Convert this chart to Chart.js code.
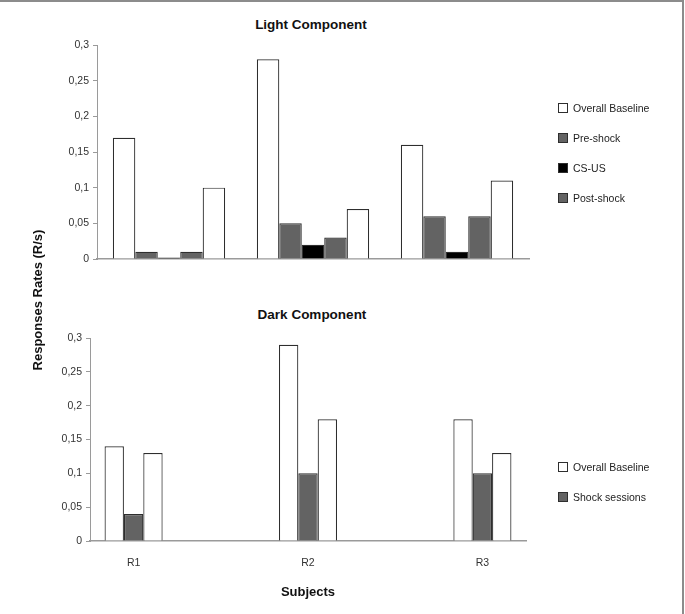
<!DOCTYPE html>
<html>
<head>
<meta charset="utf-8">
<title>Response rates — light / dark component</title>
<script src="https://cdn.jsdelivr.net/npm/chart.js@4/dist/chart.umd.min.js"></script>
<style>
  html, body { margin: 0; padding: 0; background: #fff; }
  #page {
    position: relative; width: 685px; height: 614px; overflow: hidden;
    font-family: 'Liberation Sans', Arial, sans-serif; color: #111;
  }
  /* scanned figure frame: only top and right edges show */
  #page::before {
    content: ''; position: absolute; left: 0; top: 0; width: 684px; height: 614px;
    border-top: 2px solid #8c8c8c; border-right: 2px solid #8c8c8c; box-sizing: border-box;
  }
  .panel { position: absolute; left: 0; }
  .title {
    position: absolute; width: 300px; text-align: center;
    font-weight: bold; font-size: 13.5px; line-height: 16px;
  }
  .ytitle {
    position: absolute; width: 220px; height: 16px; line-height: 16px; text-align: center;
    font-weight: bold; font-size: 13px; transform: rotate(-90deg);
  }
  .legend { position: absolute; left: 558px; font-size: 10.5px; color: #222; }
  .lg-row { height: 30px; line-height: 30px; white-space: nowrap; }
  .lg-box {
    display: inline-block; width: 8px; height: 8px; border: 1px solid #333;
    vertical-align: middle; margin: -2px 5px 0 0;
  }
</style>
</head>
<body>
<div id="page">
  <div class="title" style="left:161px; top:17px;">Light Component</div>
  <div class="panel" style="top:0;"><canvas id="lightChart" width="685" height="270"></canvas></div>
  <div class="legend" id="lightLegend" style="top:93px;"></div>

  <div class="title" style="left:162px; top:307px;">Dark Component</div>
  <div class="panel" style="top:285px;"><canvas id="darkChart" width="685" height="329"></canvas></div>
  <div class="legend" id="darkLegend" style="top:452px;"></div>

  <div class="ytitle" style="left:-72px; top:292px;">Responses Rates (R/s)</div>
</div>

<script>
// ── Data ──────────────────────────────────────
const subjects = ['R1', 'R2', 'R3'];

// Light component (R/s)
const lightBaseline   = [0.17, 0.28, 0.16];
const lightPreShock   = [0.01, 0.05, 0.06];
const lightCsUs       = [0.002, 0.02, 0.01];
const lightPostShock  = [0.01, 0.03, 0.06];
const lightBaseline2  = [0.10, 0.07, 0.11];

// Dark component (R/s)
const darkBaseline    = [0.14, 0.29, 0.18];
const darkShock       = [0.04, 0.10, 0.10];
const darkBaseline2   = [0.13, 0.18, 0.13];

const yTicks = [0, 0.05, 0.1, 0.15, 0.2, 0.25, 0.3];

// ── Styles ────────────────────────────────────
const WHITE = '#ffffff';
const GREY  = '#636363';
const BLACK = '#000000';
const EDGE  = '#2e2e2e';
const AXIS  = '#9a9a9a';
const FONT  = "'Liberation Sans', Arial, sans-serif";

function barSet(label, data, fill, inLegend = true) {
  return {
    label,
    data,
    backgroundColor: fill,
    borderColor: EDGE,
    borderWidth: 1.2,
    showInLegend: inLegend,
  };
}

function commaTick(v) {
  return String(+Number(v).toFixed(2)).replace('.', ',');
}

function yScale() {
  return {
    min: 0,
    max: 0.3,
    afterBuildTicks: s => { s.ticks = yTicks.map(value => ({ value })); },
    afterFit: s => { s.width = 40; },
    border: { color: AXIS, width: 1 },
    grid: { drawOnChartArea: false, drawTicks: true, tickLength: 4, color: AXIS },
    ticks: {
      padding: 4,
      color: '#333',
      font: { family: FONT, size: 10.5 },
      callback: commaTick,
    },
  };
}

function buildLegend(chart, el) {
  const items = (chart.legend && chart.legend.legendItems) ||
    Chart.defaults.plugins.legend.labels.generateLabels(chart);
  el.innerHTML = '';
  items
    .filter(it => chart.data.datasets[it.datasetIndex].showInLegend !== false)
    .forEach(it => {
      const row = document.createElement('div');
      row.className = 'lg-row';
      const box = document.createElement('span');
      box.className = 'lg-box';
      box.style.background = it.fillStyle;
      box.style.borderColor = it.strokeStyle;
      row.appendChild(box);
      row.appendChild(document.createTextNode(it.text));
      el.appendChild(row);
    });
}

// ── Light component ───────────────────────────
const lightChart = new Chart(document.getElementById('lightChart'), {
  type: 'bar',
  data: {
    labels: subjects,
    datasets: [
      barSet('Overall Baseline', lightBaseline, WHITE),
      barSet('Pre-shock', lightPreShock, GREY),
      barSet('CS-US', lightCsUs, BLACK),
      barSet('Post-shock', lightPostShock, GREY),
      barSet('Overall Baseline (after)', lightBaseline2, WHITE, false),
    ],
  },
  options: {
    responsive: false,
    animation: false,
    categoryPercentage: 0.78,
    barPercentage: 1,
    layout: { padding: { top: 45, left: 57, right: 156, bottom: 11 } },
    plugins: { legend: { display: false }, title: { display: false }, tooltip: { enabled: false } },
    scales: {
      x: {
        afterFit: s => { s.height = 0; },
        border: { color: AXIS, width: 1.5 },
        grid: { display: false },
        ticks: { display: false },
      },
      y: yScale(),
    },
  },
});

// ── Dark component ────────────────────────────
// linear x so the three groups sit at the same spacing as the original figure
const xMin = 0.75;
const xMax = subjects.length + 0.25;
const toPoints = vals => vals.map((y, i) => ({ x: i + 1, y }));

const darkChart = new Chart(document.getElementById('darkChart'), {
  type: 'bar',
  data: {
    datasets: [
      barSet('Overall Baseline', toPoints(darkBaseline), WHITE),
      barSet('Shock sessions', toPoints(darkShock), GREY),
      barSet('Overall Baseline (after)', toPoints(darkBaseline2), WHITE, false),
    ],
  },
  options: {
    responsive: false,
    animation: false,
    categoryPercentage: 0.333,
    barPercentage: 1,
    layout: { padding: { top: 53, left: 50, right: 159, bottom: 0 } },
    plugins: { legend: { display: false }, title: { display: false }, tooltip: { enabled: false } },
    scales: {
      x: {
        type: 'linear',
        offset: false,
        min: xMin,
        max: xMax,
        afterBuildTicks: s => { s.ticks = subjects.map((_, i) => ({ value: i + 1 })); },
        afterFit: s => { s.height = 73; },
        border: { color: AXIS, width: 1.5 },
        grid: { display: false, offset: false },
        ticks: {
          padding: 8,
          color: '#333',
          font: { family: FONT, size: 10.5 },
          callback: v => subjects[v - 1] ?? '',
        },
        title: {
          display: true,
          text: 'Subjects',
          color: '#111',
          font: { family: FONT, size: 13, weight: 'bold' },
          padding: { top: 0, bottom: 14 },
        },
      },
      y: yScale(),
    },
  },
});

// ── Legends ───────────────────────────────────
buildLegend(lightChart, document.getElementById('lightLegend'));
buildLegend(darkChart, document.getElementById('darkLegend'));
</script>
</body>
</html>
